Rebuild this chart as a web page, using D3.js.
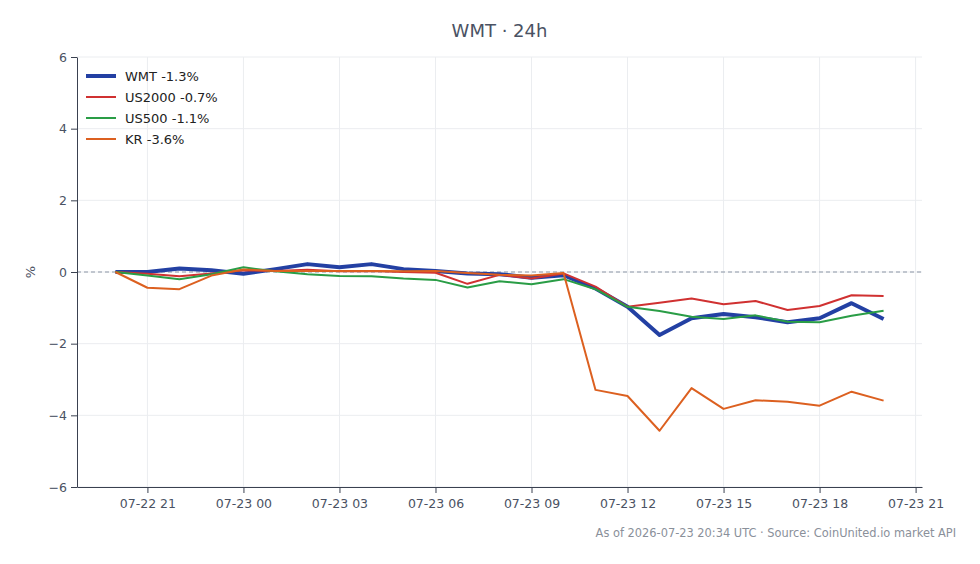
<!DOCTYPE html>
<html>
<head>
<meta charset="utf-8">
<script src="https://cdn.jsdelivr.net/npm/d3@7"></script>
<style>
  body { margin: 0; background: #fff; }
  svg { font-family: "DejaVu Sans", sans-serif; }
  .axis text { fill: #4a5263; }
  .axis path, .axis line { stroke: #3a4150; }
  .grid line { stroke: #ebedf0; }
</style>
</head>
<body>
<script>
// Data: hourly % change, 07-22 20:00 UTC .. 07-23 20:00 UTC
var startTime = Date.UTC(2026, 6, 22, 20);
var hours = d3.range(25);
var wmt = [0, 0.0, 0.1, 0.05, -0.05, 0.08, 0.22, 0.13, 0.22, 0.08, 0.03, -0.04, -0.06, -0.16, -0.09,
  -0.46, -0.97, -1.76, -1.29, -1.17, -1.26, -1.4, -1.29, -0.87, -1.31];
var us2000 = [0, -0.05, -0.12, -0.04, 0.05, 0.03, 0.06, 0.02, 0.03, 0.0, -0.02, -0.33, -0.08, -0.18, -0.04,
  -0.41, -0.97, -0.86, -0.74, -0.9, -0.81, -1.06, -0.95, -0.65, -0.67];
var us500 = [0, -0.1, -0.2, -0.06, 0.13, 0.02, -0.06, -0.11, -0.12, -0.18, -0.22, -0.43, -0.26, -0.34, -0.2,
  -0.48, -0.97, -1.09, -1.25, -1.31, -1.21, -1.39, -1.4, -1.22, -1.08];
var kr = [0, -0.44, -0.48, -0.1, 0.07, 0.03, 0.03, 0.03, 0.03, 0.02, 0.03, -0.03, -0.08, -0.1, -0.03,
  -3.29, -3.46, -4.43, -3.24, -3.82, -3.58, -3.62, -3.73, -3.34, -3.59];
var seriesNames = ['WMT -1.3%', 'US2000 -0.7%', 'US500 -1.1%', 'KR -3.6%'];
var yTicks = [-6, -4, -2, 0, 2, 4, 6];

var series = [
  {name: seriesNames[0], values: wmt, color: '#2340a3', width: 4},
  {name: seriesNames[1], values: us2000, color: '#d03131', width: 2},
  {name: seriesNames[2], values: us500, color: '#2a9d46', width: 2},
  {name: seriesNames[3], values: kr, color: '#dc6020', width: 2}
];

var times = hours.map(function(h){ return new Date(startTime + h * 3600000); });

var margin = {top: 57, right: 58, bottom: 77, left: 77};
var W = 980, H = 564;
var width = W - margin.left - margin.right;
var height = H - margin.top - margin.bottom;

var svg = d3.select('body').append('svg')
  .attr('width', W)
  .attr('height', H);
var g = svg.append('g')
  .attr('transform', 'translate(' + margin.left + ',' + margin.top + ')');

var pad = 1.2 * 3600000;
var xScale = d3.scaleUtc()
  .domain([new Date(+times[0] - pad), new Date(+times[24] + pad)])
  .range([0, width]);
var yScale = d3.scaleLinear()
  .domain([-6, 6])
  .range([height, 0]);

var xTicks = d3.utcHour.every(3).range(xScale.domain()[0], xScale.domain()[1]);

// grid
var grid = g.append('g').attr('class', 'grid');
grid.selectAll('.gx').data(xTicks).enter().append('line')
  .attr('x1', function(d){ return xScale(d); })
  .attr('x2', function(d){ return xScale(d); })
  .attr('y1', 0).attr('y2', height);
grid.selectAll('.gy').data(yTicks).enter().append('line')
  .attr('x1', 0).attr('x2', width)
  .attr('y1', function(d){ return yScale(d); })
  .attr('y2', function(d){ return yScale(d); });

// zero line
g.append('line')
  .attr('x1', 0).attr('x2', width)
  .attr('y1', yScale(0)).attr('y2', yScale(0))
  .attr('stroke', '#8c96a6')
  .attr('stroke-width', 1)
  .attr('stroke-dasharray', '4,3');

// lines
var line = d3.line()
  .x(function(d, i){ return xScale(times[i]); })
  .y(function(d){ return yScale(d); });
series.forEach(function(s){
  g.append('path')
    .datum(s.values)
    .attr('fill', 'none')
    .attr('stroke', s.color)
    .attr('stroke-width', s.width)
    .attr('stroke-linejoin', 'round')
    .attr('d', line);
});

// axes
var xAxis = d3.axisBottom(xScale)
  .tickValues(xTicks)
  .tickFormat(d3.utcFormat('%m-%d %H'))
  .tickSizeOuter(0)
  .tickPadding(6);
var yAxis = d3.axisLeft(yScale)
  .tickValues(yTicks)
  .tickFormat(d3.format('d'))
  .tickSizeOuter(0)
  .tickPadding(4);
g.append('g')
  .attr('class', 'x axis')
  .attr('transform', 'translate(0,' + height + ')')
  .call(xAxis);
g.append('g')
  .attr('class', 'y axis')
  .call(yAxis);
g.selectAll('.axis text').attr('font-family', '"DejaVu Sans", sans-serif').attr('font-size', 12.5);

// y label
svg.append('text')
  .attr('transform', 'translate(35,' + (margin.top + yScale(0)) + ') rotate(-90)')
  .attr('text-anchor', 'middle')
  .attr('fill', '#4a5263')
  .attr('font-size', 13)
  .text('%');

// title
svg.append('text')
  .attr('x', margin.left + width / 2)
  .attr('y', 37)
  .attr('text-anchor', 'middle')
  .attr('fill', '#4a5263')
  .attr('font-size', 18)
  .text('WMT · 24h');

// footer
svg.append('text')
  .attr('x', 956)
  .attr('y', 537)
  .attr('text-anchor', 'end')
  .attr('fill', '#8a909a')
  .attr('font-size', 11.4)
  .text('As of 2026-07-23 20:34 UTC · Source: CoinUnited.io market API');

// legend
var legend = svg.selectAll('.legend')
  .data(series)
  .enter().append('g')
  .attr('class', 'legend')
  .attr('transform', function(d, i){ return 'translate(86,' + (76 + i * 21) + ')'; });
legend.append('line')
  .attr('x1', 0).attr('x2', 30)
  .attr('stroke', function(d){ return d.color; })
  .attr('stroke-width', function(d){ return d.width; });
legend.append('text')
  .attr('x', 39)
  .attr('dy', '.35em')
  .attr('fill', '#222')
  .attr('font-size', 13)
  .text(function(d){ return d.name; });
</script>
</body>
</html>
